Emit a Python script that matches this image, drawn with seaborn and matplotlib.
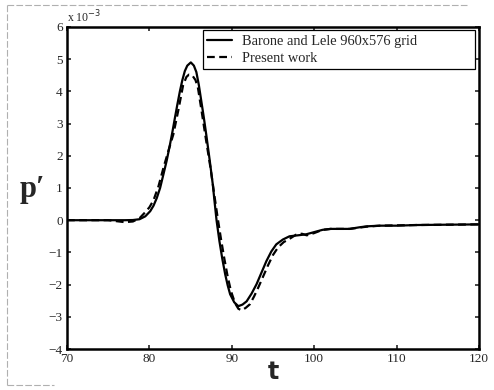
import numpy as np
import pandas as pd
import seaborn as sns
import matplotlib.pyplot as plt
from matplotlib.lines import Line2D

# valores (p' em unidades de 1e-3)
t_barone = [70, 75, 77, 78, 78.8, 79.5, 80.1, 80.5, 80.9, 81.3, 81.7, 82.1, 82.5, 82.8,
            83.1, 83.4, 83.7, 84.0, 84.3, 84.6, 85.03, 85.4, 85.7, 86.0, 86.3, 86.6,
            86.9, 87.3, 87.7, 87.9, 88.15, 88.5, 88.85, 89.2, 89.5, 89.8, 90.3, 90.8,
            91.3, 91.8, 92.4, 93.0, 93.6, 94.2, 94.8, 95.4, 96.2, 97.0, 98, 99, 100,
            101, 102, 103, 104.3, 105.5, 106.4, 108, 110, 112.4, 116, 120]
p_barone = [0, 0, 0, 0.005, 0.03, 0.12, 0.28, 0.45, 0.69, 1.0, 1.42, 1.85, 2.35, 2.75,
            3.18, 3.6, 4.0, 4.35, 4.63, 4.8, 4.9, 4.8, 4.6, 4.2, 3.7, 3.2,
            2.66, 1.9, 1.1, 0.6, 0.0, -0.65, -1.2, -1.68, -2.02, -2.3, -2.55, -2.67,
            -2.62, -2.52, -2.28, -1.99, -1.63, -1.27, -0.97, -0.75, -0.6, -0.5, -0.47,
            -0.44, -0.37, -0.3, -0.27, -0.27, -0.27, -0.22, -0.19, -0.17, -0.17,
            -0.15, -0.14, -0.13]

t_present = [70, 75, 76, 77, 78, 78.8, 79.5, 80.0, 80.5, 81.1, 81.7, 82.3, 82.9, 83.5,
             84.1, 84.5, 84.8, 85.2, 85.6, 85.9, 86.3, 86.9, 87.4, 87.9, 88.3, 88.7,
             89.1, 89.5, 89.9, 90.4, 90.8, 91.2, 91.7, 92.2, 92.7, 93.2, 93.8, 94.4,
             95, 95.6, 96.3, 97, 97.8, 98.5, 99.1, 100, 101, 102, 104.3, 106.4, 108,
             110, 112.4, 116, 120]
p_present = [0, 0, -0.03, -0.06, -0.04, 0.06, 0.25, 0.4, 0.62, 1.05, 1.62, 2.15, 2.66,
             3.4, 4.2, 4.45, 4.52, 4.5, 4.35, 4.1, 3.45, 2.45, 1.65, 0.75, 0.05, -0.6,
             -1.2, -1.75, -2.2, -2.58, -2.75, -2.8, -2.72, -2.61, -2.37, -2.1, -1.75,
             -1.4, -1.08, -0.85, -0.68, -0.58, -0.45, -0.42, -0.47, -0.4, -0.3, -0.27,
             -0.27, -0.2, -0.17, -0.16, -0.15, -0.14, -0.13]

x_ticks = [70, 80, 90, 100, 110, 120]
y_ticks = [-4, -3, -2, -1, 0, 1, 2, 3, 4, 5, 6]

sns.set_style("ticks")
plt.rcParams['font.family'] = ['Liberation Serif', 'DejaVu Serif']
plt.rcParams['axes.unicode_minus'] = True

fig = plt.figure(figsize=(4.94, 3.90), dpi=100)
ax = fig.add_axes([0.1356, 0.1051, 0.8340, 0.8257])

sns.lineplot(ax=ax, x=t_barone, y=p_barone, color='black', linewidth=1.6,
             label='Barone and Lele 960x576 grid')
sns.lineplot(ax=ax, x=t_present, y=p_present, color='black', linewidth=1.6,
             linestyle=(0, (3.5, 2)), label='Present work')

ax.set_xlim(70, 120)
ax.set_ylim(-4, 6)
ax.set_xticks(x_ticks)
ax.set_yticks(y_ticks)
ax.set_yticklabels([str(v).replace('-', '\u2212') for v in y_ticks])
ax.tick_params(direction='in', top=True, right=True, length=3, width=1.2,
               labelsize=9.5, pad=3)
for s in ax.spines.values():
    s.set_linewidth(1.8)
    s.set_color('black')

ax.set_xlabel('t', fontsize=17, fontweight='bold', family='DejaVu Sans', labelpad=-4)
ax.set_ylabel('p\u2032', fontsize=22, fontweight='bold', rotation=0)
ax.yaxis.set_label_coords(-0.083, 0.45)
ax.text(0.0, 1.005, 'x 10$^{-3}$', transform=ax.transAxes, fontsize=8.5, va='bottom', ha='left')

# legenda com espaço extra à direita, como no original
leg = ax.legend(loc='upper left', bbox_to_anchor=(0.330, 0.99, 0.660, 0.0), mode='expand',
                borderaxespad=0, fancybox=False, edgecolor='black', fontsize=10.4,
                handlelength=1.7, handletextpad=0.7, borderpad=0.3, labelspacing=0.3,
                framealpha=1)
leg.get_frame().set_linewidth(0.9)

# moldura clara da digitalização
for xs, ys in [([0.014, 0.95], [0.987, 0.987]), ([0.014, 0.014], [0.013, 0.987]),
               ([0.014, 0.11], [0.013, 0.013])]:
    fig.add_artist(Line2D(xs, ys, color='#b0b0b0', linewidth=0.8,
                          linestyle=(0, (6, 2)), transform=fig.transFigure))

fig.savefig('out.png', dpi=100)
